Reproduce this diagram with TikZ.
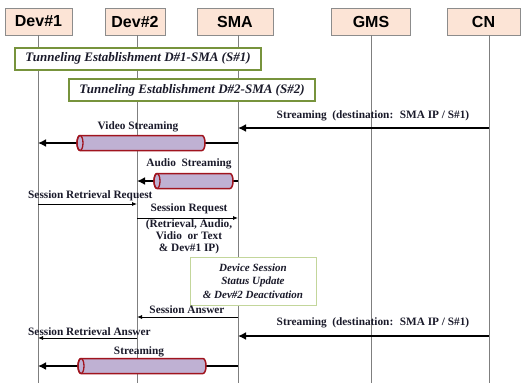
\documentclass[tikz,border=0pt]{standalone}
\usepackage{fontspec}
\setmainfont{Liberation Serif}
\setsansfont{Liberation Sans}
\usetikzlibrary{arrows.meta}
\definecolor{hdrfill}{HTML}{FCE4D6}
\definecolor{hdrdraw}{HTML}{8C8C8C}
\definecolor{tunnel}{HTML}{77933C}
\definecolor{devbox}{HTML}{C3D69B}
\definecolor{cylfill}{HTML}{BFB1D3}
\definecolor{cyldraw}{HTML}{A0141E}
\definecolor{life}{HTML}{7F7F7F}
\definecolor{txt}{HTML}{1A1A2A}
\newcommand\cylbar[3]{%
  \draw[draw=cyldraw, fill=cylfill, line width=1.5pt]
    (#1,#3-7.5) -- (#2,#3-7.5) arc[start angle=90, end angle=-90, x radius=3pt, y radius=7.5pt]
    -- (#1,#3+7.5) arc[start angle=270, end angle=90, x radius=3pt, y radius=7.5pt] -- cycle;
  \draw[draw=cyldraw, line width=1.3pt] (#1,#3) ellipse [x radius=3pt, y radius=7.5pt];}
\begin{document}
\begin{tikzpicture}[x=1pt,y=-1pt,
  hdr/.style={draw=hdrdraw, fill=hdrfill, line width=0.8pt, minimum height=27pt, inner sep=0pt,
    font=\sffamily\bfseries\fontsize{16}{18}\selectfont},
  tunbox/.style={draw=tunnel, line width=2pt, fill=white, minimum height=22pt, inner sep=0pt,
    text=txt, font=\bfseries\itshape\fontsize{13}{15}\selectfont},
  devstat/.style={draw=devbox, line width=1pt, fill=white, minimum width=126pt, minimum height=48pt,
    inner sep=0pt, align=center, text=txt, font=\bfseries\itshape\fontsize{11}{13.5}\selectfont},
  lbl/.style={font=\bfseries\fontsize{11.3}{12}\selectfont, inner sep=0pt, text=txt},
  lifeline/.style={draw=life, line width=1pt},
  bigarrow/.style={line width=2.5pt, -{Latex[length=8pt,width=8pt]}},
  smallarrow/.style={line width=0.8pt, -{Latex[length=5pt,width=4pt]}},
]
\useasboundingbox (0,0) rectangle (524,383);
% headers
\node[hdr, minimum width=67pt] (dev1) at (38.5,21.5) {Dev\#1};
\node[hdr, minimum width=60pt] (dev2) at (135,21.5) {Dev\#2};
\node[hdr, minimum width=76pt] (sma) at (235,21.5) {SMA};
\node[hdr, minimum width=79pt] (gms) at (371,21.5) {GMS};
\node[hdr, minimum width=73pt] (cn) at (483.5,21.5) {CN};
% lifelines
\foreach \n/\x in {a/38,b/137,c/238,d/371,e/489}{
  \coordinate (top\n) at (\x,35);
  \coordinate (bot\n) at (\x,383);
  \draw[lifeline] (top\n) -- (bot\n);
}
% tunneling boxes
\node[tunbox, minimum width=246pt] (tun1) at (138,58.5) {Tunneling Establishment D\#1-SMA (S\#1)};
\node[tunbox, minimum width=246pt] (tun2) at (192,90) {Tunneling Establishment D\#2-SMA (S\#2)};
% streaming CN -> SMA (1)
\coordinate (cn1) at (489,128); \coordinate (sma1) at (238,128);
\draw[bigarrow] (cn1) -- (sma1);
\node[lbl] (lbs1) at (373,116) {Streaming \ (destination: \ SMA IP / S\#1)};
% video streaming
\coordinate (sma2) at (238,143); \coordinate (d12) at (38,143);
\draw[bigarrow] (sma2) -- (d12);
\cylbar{80}{202}{143}
\node[lbl] (lvid) at (138,127) {Video Streaming};
% audio streaming
\coordinate (sma3) at (238,181); \coordinate (d23) at (137,181);
\draw[bigarrow] (sma3) -- (d23);
\cylbar{157}{230}{181}
\node[lbl] (laud) at (189,164) {Audio \ Streaming};
% session retrieval request
\coordinate (d14) at (38,204); \coordinate (d24) at (137,204);
\draw[smallarrow] (d14) -- (d24);
\node[lbl, anchor=west] (lsrr) at (28,196) {Session Retrieval Request};
% session request
\coordinate (d25) at (137,218); \coordinate (sma5) at (238,218);
\draw[smallarrow] (d25) -- (sma5);
\node[lbl] (lsr) at (189,209) {Session Request};
\node[lbl, align=center, font=\bfseries\fontsize{11.3}{12}\selectfont, anchor=north] (lsr2) at (189,219)
  {(Retrieval, Audio,\\Vidio \ or Text\\\& Dev\#1 IP)};
% device session box
\node[devstat] (dss) at (253,281) {Device Session\\Status Update\\\& Dev\#2 Deactivation};
% session answer
\coordinate (sma6) at (238,317); \coordinate (d26) at (137,317);
\draw[smallarrow] (sma6) -- (d26);
\node[lbl] (lsa) at (187,310) {Session Answer};
% streaming CN -> SMA (2)
\coordinate (cn7) at (489,336); \coordinate (sma7) at (238,336);
\draw[bigarrow] (cn7) -- (sma7);
\node[lbl] (lbs2) at (373,323) {Streaming \ (destination: \ SMA IP / S\#1)};
% session retrieval answer
\coordinate (d28) at (137,338); \coordinate (d18) at (38,338);
\draw[smallarrow] (d28) -- (d18);
\node[lbl, anchor=west] (lsra) at (28,332) {Session Retrieval Answer};
% streaming
\coordinate (sma9) at (238,366); \coordinate (d19) at (38,366);
\draw[bigarrow] (sma9) -- (d19);
\cylbar{81}{203}{366}
\node[lbl] (lst) at (139,352) {Streaming};
\end{tikzpicture}
\end{document}
